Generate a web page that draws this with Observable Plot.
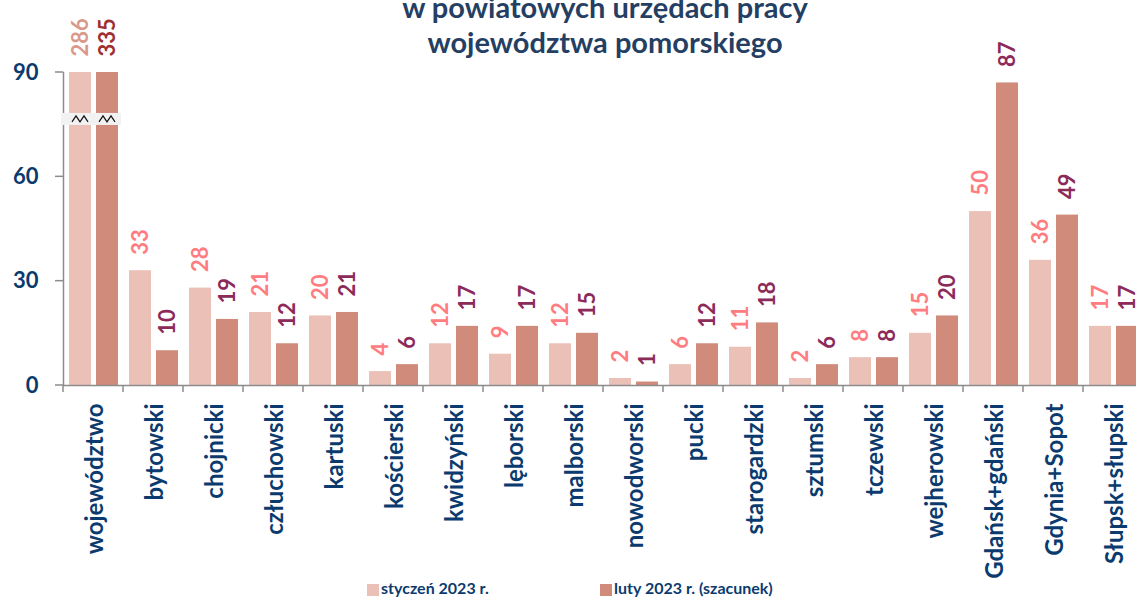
<!DOCTYPE html>
<html><head><meta charset="utf-8">
<script src="https://cdn.jsdelivr.net/npm/d3@7"></script>
<script src="https://cdn.jsdelivr.net/npm/@observablehq/plot@0.6"></script>
<style>
body{margin:0;background:#fff;overflow:hidden}
#wrap{position:relative;width:1136px;height:599px;overflow:hidden;font-family:Lato,sans-serif;background:#fff}
#chart svg text{font-weight:bold !important}
#title{position:absolute;left:0;width:1210px;top:-11px;text-align:center;font-weight:bold;font-size:29px;line-height:35px;color:#243f63;pointer-events:none}
.lg{position:absolute;top:578px;font-weight:bold;font-size:16px;color:#0b3b6e;white-space:nowrap;line-height:20px}
.sw{position:absolute;width:12px;height:12px;top:584px}
</style></head><body>
<div id="wrap">
<div id="chart"></div>
<div id="title">w powiatowych urzędach pracy<br>województwa pomorskiego</div>
<div class="sw" style="left:367px;background:#ebc0b6"></div>
<div class="lg" style="left:381px">styczeń 2023 r.</div>
<div class="sw" style="left:600px;background:#d08b7a"></div>
<div class="lg" style="left:614px">luty 2023 r. (szacunek)</div>
</div>
<script>
const categories = ["województwo","bytowski","chojnicki","człuchowski","kartuski","kościerski","kwidzyński","lęborski","malborski","nowodworski","pucki","starogardzki","sztumski","tczewski","wejherowski","Gdańsk+gdański","Gdynia+Sopot","Słupsk+słupski"];
const series = ["styczeń 2023 r.","luty 2023 r. (szacunek)"];
const styczen = [286,33,28,21,20,4,12,9,12,2,6,11,2,8,15,50,36,17];
const luty = [335,10,19,12,21,6,17,17,15,1,12,18,6,8,20,87,49,17];
const yTicks = [0,30,60,90];
const yCap = 90;

const rows1 = categories.map((c,i)=>({cat:c, series:series[0], value:styczen[i]}));
const rows2 = categories.map((c,i)=>({cat:c, series:series[1], value:luty[i]}));
const capY = d => Math.min(d.value, yCap);
const isW = d => d.cat === categories[0];

const AX = "#8c8c8c", TXT = "#0b3b6e";

function extras(index, scales, values, dims) {
  const g = d3.create("svg:g");
  const x0 = scales.x(categories[0]);
  const bw = scales.x(categories[1]) - x0;
  const y0 = scales.y(0);
  for (const t of yTicks) {
    const yy = scales.y(t);
    g.append("line").attr("x1",x0-8).attr("x2",x0).attr("y1",yy).attr("y2",yy)
      .attr("stroke",AX).attr("stroke-width",1.5);
  }
  for (let i = 0; i <= categories.length; i++) {
    const xx = x0 + i*bw;
    g.append("line").attr("x1",xx).attr("x2",xx).attr("y1",y0).attr("y2",y0+7)
      .attr("stroke",AX).attr("stroke-width",1.5);
  }
  const cy = scales.y(76.5);
  g.append("rect").attr("x",x0-2).attr("y",cy-6).attr("width",bw).attr("height",12).attr("fill","#f2f2f2");
  for (const cx of [x0+17, x0+44]) {
    g.append("path").attr("d",`M${cx-8},${cy+3}L${cx-4},${cy-3}L${cx},${cy+3}L${cx+4},${cy-3}L${cx+8},${cy+3}`)
      .attr("fill","none").attr("stroke","#111").attr("stroke-width",1.2);
  }
  return g.node();
}

const chart = Plot.plot({
  width: 1136, height: 575,
  marginTop: 72, marginBottom: 190, marginLeft: 63, marginRight: 0,
  style: {fontFamily: "Lato, sans-serif", fontWeight: "bold", background: "transparent", overflow: "visible"},
  x: {domain: categories, range: [63, 1143], padding: 0, axis: null},
  y: {domain: [0, 90], axis: null},
  marks: [
    Plot.barY(rows1, {x:"cat", y: capY, fill:"#ebc0b6", insetLeft:6, insetRight:32}),
    Plot.barY(rows2, {x:"cat", y: capY, fill:"#d08b7a", insetLeft:33, insetRight:5}),
    Plot.frame({anchor:"left", stroke:AX, strokeWidth:1.5}),
    Plot.ruleY([0], {stroke:AX, strokeWidth:1.5}),
    extras,
    Plot.text(yTicks, {y: d=>d, text: d=>String(d), frameAnchor:"left", textAnchor:"end", dx:-25, fontSize:22, fill:TXT}),
    Plot.text(categories, {x: d=>d, text: d=>d, frameAnchor:"bottom", rotate:-90, textAnchor:"end", lineAnchor:"middle", dx:2, dy:18, fontSize:24, fill:TXT}),
    Plot.text(rows1.filter(d=>!isW(d)), {x:"cat", y: capY, text: d=>String(d.value), rotate:-90, textAnchor:"start", lineAnchor:"middle", dx:-13, dy:-16, fontSize:22, fill:"#ff7c80"}),
    Plot.text(rows2.filter(d=>!isW(d)), {x:"cat", y: capY, text: d=>String(d.value), rotate:-90, textAnchor:"start", lineAnchor:"middle", dx:14, dy:-16, fontSize:22, fill:"#8c2a5a"}),
    Plot.text(rows1.filter(isW), {x:"cat", y: capY, text: d=>String(d.value), rotate:-90, textAnchor:"start", lineAnchor:"middle", dx:-13, dy:-16, fontSize:22, fill:"#d99a8a"}),
    Plot.text(rows2.filter(isW), {x:"cat", y: capY, text: d=>String(d.value), rotate:-90, textAnchor:"start", lineAnchor:"middle", dx:14, dy:-16, fontSize:22, fill:"#9e2f33"})
  ]
});
document.getElementById("chart").appendChild(chart);
</script>
</body></html>
